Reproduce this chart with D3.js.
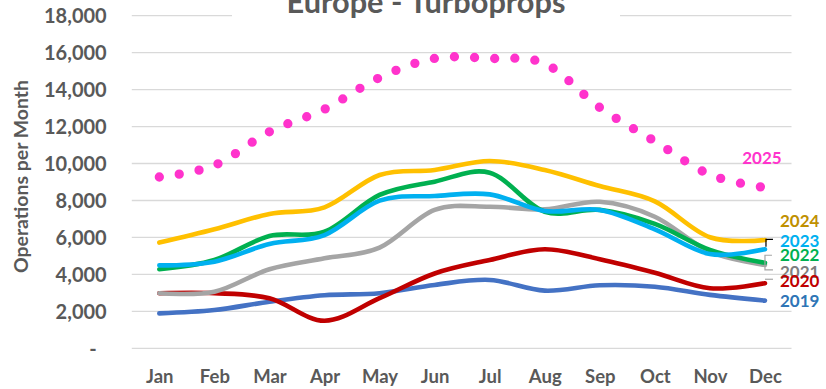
<!DOCTYPE html>
<html>
<head>
<meta charset="utf-8">
<script src="https://cdn.jsdelivr.net/npm/d3@7"></script>
<style>
  html, body { margin: 0; padding: 0; background: #ffffff; }
  svg { display: block; font-family: Lato, "Open Sans", sans-serif; }
</style>
</head>
<body>
<svg id="chart" width="826" height="389"></svg>
<script>
// Monthly turboprop operations in Europe, by year
const months = ["Jan", "Feb", "Mar", "Apr", "May", "Jun", "Jul", "Aug", "Sep", "Oct", "Nov", "Dec"];
const years = ["2019", "2020", "2021", "2022", "2023", "2024", "2025"];
const ops2019 = [1890, 2070, 2520, 2870, 2980, 3430, 3700, 3120, 3410, 3330, 2890, 2580];
const ops2020 = [2980, 2980, 2710, 1490, 2710, 4050, 4780, 5360, 4820, 4090, 3250, 3520];
const ops2021 = [2980, 3060, 4280, 4870, 5450, 7490, 7660, 7520, 7930, 7120, 5230, 4510];
const ops2022 = [4280, 4780, 6080, 6310, 8300, 9020, 9500, 7390, 7490, 6730, 5320, 4630];
const ops2023 = [4490, 4690, 5650, 6130, 7990, 8240, 8330, 7430, 7490, 6440, 5100, 5360];
const ops2024 = [5720, 6440, 7270, 7630, 9380, 9650, 10140, 9650, 8780, 7950, 6010, 5860];
const ops2025 = [9270, 9900, 11720, 12940, 14650, 15690, 15690, 15410, 13030, 11200, 9400, 8700];
const yTicks = [0, 2000, 4000, 6000, 8000, 10000, 12000, 14000, 16000, 18000];
const yTickLabels = ["-", "2,000", "4,000", "6,000", "8,000", "10,000", "12,000", "14,000", "16,000", "18,000"];

const seriesValues = [ops2019, ops2020, ops2021, ops2022, ops2023, ops2024, ops2025];

// styling per series (line colour, label colour, label offset from the December point)
const style = {
  "2019": { line: "#4472C4", text: "#2E75B6", dx: 15, dy: 6.6, anchor: "start" },
  "2020": { line: "#C00000", text: "#C00000", dx: 15, dy: 3.4, anchor: "start" },
  "2021": { line: "#A5A5A5", text: "#7F7F7F", dx: 15, dy: 13, anchor: "start" },
  "2022": { line: "#00B050", text: "#00B050", dx: 15, dy: -2, anchor: "start" },
  "2023": { line: "#00B0F0", text: "#00B0F0", dx: 15, dy: -2.6, anchor: "start" },
  "2024": { line: "#FFC000", text: "#BF9000", dx: 15, dy: -12.7, anchor: "start" },
  "2025": { line: "#FF33CC", text: "#FF33CC", dx: -3, dy: -24, anchor: "middle" }
};
// labels drawn in this order so 2020 sits over 2021
const labelOrder = ["2025", "2024", "2023", "2022", "2021", "2020", "2019"];

const svg = d3.select("#chart");
const plotLeft = 131.8, plotRight = 792.5, plotTop = 15.7, plotBottom = 348.3;

const x = d3.scalePoint().domain(months).range([plotLeft, plotRight]).padding(0.5);
const y = d3.scaleLinear().domain([0, 18000]).range([plotBottom, plotTop]);

// fit a text element's font size so it spans the given width
function fitWidth(sel, width, baseSize) {
  const w = sel.node().getComputedTextLength();
  if (w > 0) sel.attr("font-size", baseSize * width / w);
}

// horizontal gridlines
svg.append("g").selectAll("line").data(yTicks).join("line")
  .attr("x1", plotLeft).attr("x2", plotRight - 1)
  .attr("y1", d => y(d)).attr("y2", d => y(d))
  .attr("stroke", "#D9D9D9").attr("stroke-width", 1.3);

// y axis tick labels
const yAxis = svg.append("g").attr("transform", `translate(106.7,0)`)
  .call(d3.axisLeft(y).tickValues(yTicks).tickSize(0).tickPadding(0)
    .tickFormat((d, i) => yTickLabels[i]));
yAxis.select(".domain").remove();
yAxis.selectAll("text")
  .attr("font-family", "Lato, sans-serif").attr("font-weight", 700)
  .attr("font-size", 20).attr("fill", "#595959")
  .attr("dy", "0.35em")
  .attr("dx", d => d === 0 ? -10 : 0);

// x axis month labels
const xAxis = svg.append("g").attr("transform", `translate(0,376.5)`)
  .call(d3.axisBottom(x).tickSize(0).tickPadding(0));
xAxis.select(".domain").remove();
xAxis.selectAll("text")
  .attr("font-family", "Lato, sans-serif").attr("font-weight", 700)
  .attr("font-size", 18.5).attr("fill", "#595959")
  .attr("y", 0).attr("dy", "0.35em");

// y axis title
const yTitle = svg.append("text")
  .attr("transform", "translate(28,176.5) rotate(-90)")
  .attr("text-anchor", "middle")
  .attr("font-weight", 700).attr("font-size", 18).attr("fill", "#595959")
  .text("Operations per Month");
fitWidth(yTitle, 193, 18);

// chart title on a white box that breaks the top gridline
svg.append("rect").attr("x", 232).attr("y", 0).attr("width", 388).attr("height", 22).attr("fill", "#ffffff");
const title = svg.append("text")
  .attr("x", 426).attr("y", 12.7)
  .attr("text-anchor", "middle")
  .attr("font-weight", 700).attr("font-size", 26).attr("fill", "#595959")
  .text("Europe - Turboprops");
fitWidth(title, 279, 26);

// smoothed series lines
const line = d3.line()
  .x((d, i) => x(months[i]))
  .y(d => y(d))
  .curve(d3.curveCardinal.tension(0));

const lines = svg.append("g").attr("fill", "none");
years.forEach((yr, k) => {
  const p = lines.append("path")
    .datum(seriesValues[k])
    .attr("d", line)
    .attr("stroke", style[yr].line);
  if (yr === "2025") {
    // round dots spaced evenly along the curve
    const len = p.node().getTotalLength();
    p.attr("stroke-width", 9.3).attr("stroke-linecap", "round")
      .attr("stroke-dasharray", `0 ${len / 33.25}`);
  } else {
    p.attr("stroke-width", 4.6).attr("stroke-linecap", "round").attr("stroke-linejoin", "round");
  }
});

// leader lines next to the December end points
const xd = x("Dec");
const leaders = svg.append("g").attr("fill", "none").attr("stroke-width", 1.2);
leaders.append("path")
  .attr("d", `M${xd + 1},${y(ops2023[11]) - 2.5} V${y(ops2024[11]) - 0.7} H${xd + 8}`)
  .attr("stroke", "#000000");
leaders.append("path")
  .attr("d", `M${xd + 7},${y(ops2022[11]) - 7.5} H${xd} V${y(ops2021[11]) + 5} H${xd + 8}`)
  .attr("stroke", "#A5A5A5");
leaders.append("path")
  .attr("d", `M${xd},${y(ops2020[11]) - 4} H${xd + 8}`)
  .attr("stroke", "#A5A5A5");

// year labels
const lastIdx = months.length - 1;
svg.append("g").selectAll("text").data(labelOrder).join("text")
  .attr("x", d => xd + style[d].dx)
  .attr("y", d => y(seriesValues[years.indexOf(d)][lastIdx]) + style[d].dy)
  .attr("text-anchor", d => style[d].anchor)
  .attr("font-weight", 700).attr("font-size", 17)
  .attr("fill", d => style[d].text)
  .text(d => d);
</script>
</body>
</html>
